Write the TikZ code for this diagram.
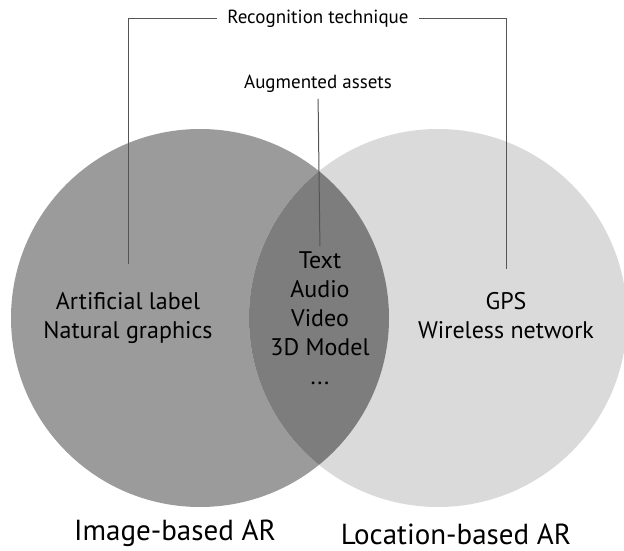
\documentclass[tikz,border=0pt]{standalone}
\usepackage{fontspec}
\setmainfont{PT Sans}
\definecolor{imggray}{HTML}{9B9B9B}
\definecolor{locgray}{HTML}{DADADA}
\definecolor{lensgray}{HTML}{7D7D7D}
\definecolor{wiregray}{HTML}{555555}
\begin{document}
\begin{tikzpicture}[x=1pt, y=-1pt,
    every node/.style={align=center, text=black, inner sep=0pt},
    inner/.style={font=\fontsize{24}{29}\selectfont},
    toplabel/.style={font=\fontsize{19}{23}\selectfont, inner xsep=10pt},
    setname/.style={font=\fontsize{29}{34}\selectfont},
    wire/.style={draw=wiregray, line width=1pt}]
    \useasboundingbox (0,0) rectangle (624,551);
    % the two sets
    \fill[imggray] (200,318) circle (189pt);
    \fill[locgray] (438,318) circle (189pt);
    \begin{scope}
        \clip (200,318) circle (189pt);
        \fill[lensgray] (438,318) circle (189pt);
    \end{scope}
    % texts
    \node[inner] (img) at (128,318) {Artificial label\\Natural graphics};
    \node[inner] (mid) at (320,318) {Text\\Audio\\Video\\3D Model\\...};
    \node[inner] (loc) at (506,316) {GPS\\Wireless network};
    \node[toplabel] (rec) at (318,19) {Recognition technique};
    \node[toplabel] (aug) at (318,84) {Augmented assets};
    \node[setname] (imgname) at (175,533) {Image-based AR};
    \node[setname] (locname) at (456,534) {Location-based AR};
    % connectors
    \draw[wire, shorten <=28pt] (img.north) |- (rec.west);
    \draw[wire, shorten <=24pt] (loc.north) |- (rec.east);
    \draw[wire, shorten <=5pt, shorten >=6pt] (mid.north) -- (aug.south);
\end{tikzpicture}
\end{document}
